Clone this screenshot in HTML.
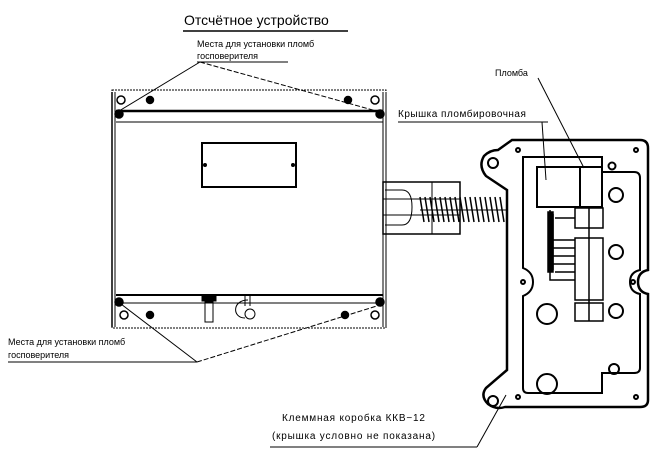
<!DOCTYPE html>
<html><head><meta charset="utf-8"><style>
html,body{margin:0;padding:0;background:#fff}
svg{display:block}
text{font-family:"Liberation Sans",sans-serif;fill:#000}
</style></head><body>
<svg width="656" height="457" viewBox="0 0 656 457" xmlns="http://www.w3.org/2000/svg" fill="none" stroke="#000">
<!-- titles -->
<text x="184" y="25" font-size="14" stroke="none">Отсчётное устройство</text>
<line x1="183" y1="31" x2="348" y2="31" stroke-width="1.5"/>
<text x="197" y="47" font-size="9" stroke="none">Места для установки пломб</text>
<text x="197" y="59" font-size="9" stroke="none">госповерителя</text>
<line x1="197" y1="62" x2="288" y2="62"/>
<line x1="200" y1="62" x2="119" y2="111"/>
<line x1="200" y1="62" x2="380" y2="112" stroke-dasharray="5,2"/>

<!-- meter body -->
<rect x="112" y="90" width="274" height="238" stroke-dasharray="2,1"/>
<line x1="112" y1="92" x2="112" y2="327" stroke-width="1.5"/>
<line x1="115" y1="92" x2="115" y2="327"/>
<line x1="383" y1="92" x2="383" y2="327"/>
<line x1="386" y1="92" x2="386" y2="327"/>
<line x1="116" y1="111" x2="383" y2="111" stroke-width="2.5"/>
<line x1="116" y1="122" x2="383" y2="122"/>
<line x1="116" y1="295" x2="383" y2="295" stroke-width="2"/>
<line x1="116" y1="303" x2="383" y2="303"/>
<g stroke-width="1.5">
<circle cx="121" cy="100" r="4"/><circle cx="150" cy="100" r="3.5" fill="#000"/>
<circle cx="348" cy="100" r="3.5" fill="#000"/><circle cx="375" cy="100" r="4"/>
<circle cx="119" cy="114" r="4" fill="#000"/><circle cx="380" cy="114" r="4" fill="#000"/>
<circle cx="119" cy="302" r="4" fill="#000"/><circle cx="380" cy="302" r="4" fill="#000"/>
<circle cx="124" cy="315" r="4"/><circle cx="150" cy="315" r="3.5" fill="#000"/>
<circle cx="345" cy="315" r="3.5" fill="#000"/><circle cx="375" cy="315" r="4"/>
</g>
<rect x="202" y="143" width="94" height="44" stroke-width="2"/>
<circle cx="205" cy="165" r="1.5" fill="#000"/><circle cx="293" cy="165" r="1.5" fill="#000"/>
<!-- glands bottom -->
<rect x="202" y="296" width="14" height="5" fill="#000"/>
<rect x="205" y="302" width="8" height="20"/>
<path d="M245 296 v10 M250 296 v10 M248 300 C 232 300 232 318 245 318"/>
<circle cx="250" cy="314" r="5"/>

<!-- connector -->
<rect x="383" y="182" width="77" height="52" stroke-width="1.5"/>
<line x1="432" y1="182" x2="432" y2="234"/>
<line x1="383" y1="199" x2="460" y2="199"/>
<line x1="383" y1="215" x2="460" y2="215"/>
<path d="M385 190 H402 Q412 190 412 207 Q412 225 402 225 H385"/>
<g stroke-width="1.5">
<path d="M420 197 L424 222 M425 197 L429 222 M430 197 L434 222 M435 197 L439 222 M440 197 L444 222 M445 197 L449 222 M450 197 L454 222 M455 197 L459 222 M460 197 L464 222 M465 197 L469 222 M470 197 L474 222 M475 197 L479 222 M480 197 L484 222 M485 197 L489 222 M490 197 L494 222 M495 197 L499 222 M500 197 L504 222"/>
</g>
<line x1="420" y1="210" x2="507" y2="210"/>

<!-- junction box outer -->
<path d="M512 140 H640 Q648 140 648 148 V270 Q638 272 638 282 Q638 292 648 294 V400 Q648 407 640 407 H505 Q496 410 488 404 Q480 396 486 388 L507 370 V190 L486 176 Q478 166 484 156 Q490 150 498 150 Z" stroke-width="2.5"/>
<circle cx="493" cy="163" r="5" stroke-width="2"/><circle cx="493" cy="401" r="5" stroke-width="2"/>
<path d="M523 157 H602 V172 H634 Q640 172 640 178 V270 Q630 272 630 282 Q630 292 640 294 V368 Q640 373 634 373 H602 V393 H528 Q523 393 523 388 V296 Q533 292 533 282 Q533 272 523 268 Z" stroke-width="2"/>
<g stroke-width="2">
<circle cx="518" cy="150" r="2"/><circle cx="636" cy="150" r="2"/>
<circle cx="636" cy="397" r="2"/><circle cx="518" cy="397" r="2"/>
<circle cx="523" cy="282" r="2"/><circle cx="633" cy="282" r="2"/>
<circle cx="612" cy="166" r="3.5"/>
<circle cx="616" cy="195" r="7"/><circle cx="616" cy="252" r="7"/>
<circle cx="616" cy="311" r="7"/><circle cx="614" cy="369" r="5"/>
<circle cx="547" cy="314" r="10"/><circle cx="547" cy="384" r="10"/>
</g>
<rect x="537" y="167" width="65" height="40" stroke-width="2"/>
<line x1="580" y1="167" x2="580" y2="207" stroke-width="2"/>
<!-- terminal blocks -->
<g stroke-width="1.5">
<rect x="575" y="208" width="28" height="20"/><rect x="575" y="238" width="28" height="62"/><rect x="575" y="303" width="28" height="18"/>
<line x1="589" y1="208" x2="589" y2="321"/>
<path d="M550 210 V280 H575 M553 214 V270 M555 218 H575 M553 240 H575 M553 248 H575 M553 256 H575 M553 264 H575 M555 272 H575"/>
<rect x="548" y="212" width="5" height="60" fill="#000"/>
</g>
<!-- labels right -->
<text x="495" y="76" font-size="9" stroke="none">Пломба</text>
<line x1="538" y1="78" x2="584" y2="168"/>
<text x="398" y="117" font-size="10" stroke="none" letter-spacing="0.5">Крышка  пломбировочная</text>
<line x1="398" y1="122" x2="548" y2="122"/>
<line x1="542" y1="122" x2="546" y2="180"/>

<text x="282" y="421" font-size="10" stroke="none" letter-spacing="0.8">Клеммная  коробка  ККВ−12</text>
<text x="272" y="439" font-size="10" stroke="none" letter-spacing="0.8">(крышка  условно  не  показана)</text>
<line x1="270" y1="447" x2="477" y2="447"/>
<line x1="477" y1="447" x2="506" y2="395"/>

<!-- labels left -->
<text x="8" y="345" font-size="9" stroke="none">Места для установки пломб</text>
<text x="8" y="358" font-size="9" stroke="none">госповерителя</text>
<line x1="8" y1="362" x2="197" y2="362"/>
<line x1="197" y1="362" x2="121" y2="304"/>
<line x1="197" y1="362" x2="380" y2="305" stroke-dasharray="5,2"/>
</svg>
</body></html>
